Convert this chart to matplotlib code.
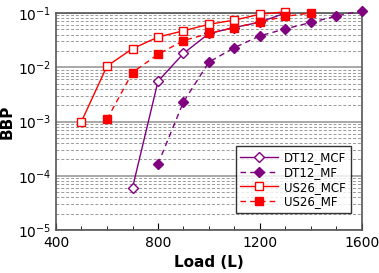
import matplotlib
matplotlib.use("Agg")
import matplotlib.pyplot as plt
from matplotlib.ticker import LogLocator, MultipleLocator

dt12_mcf_x = [700, 800, 900, 1000, 1100, 1200, 1300]
dt12_mcf_y = [6e-5, 5.5e-3, 0.018, 0.042, 0.054, 0.068, 0.1]
dt12_mf_x = [800, 900, 1000, 1100, 1200, 1300, 1400, 1500, 1600]
dt12_mf_y = [1.65e-4, 2.3e-3, 0.0125, 0.023, 0.038, 0.051, 0.067, 0.088, 0.11]
us26_mcf_x = [500, 600, 700, 800, 900, 1000, 1100, 1200, 1300]
us26_mcf_y = [1.0e-3, 0.0105, 0.022, 0.036, 0.047, 0.062, 0.074, 0.095, 0.105]
us26_mf_x = [600, 700, 800, 900, 1000, 1100, 1200, 1300, 1400]
us26_mf_y = [1.1e-3, 8e-3, 0.0173, 0.031, 0.042, 0.054, 0.068, 0.087, 0.1]

purple = "#800080"
red = "#ff0000"

fig = plt.figure(figsize=(3.79, 2.73), dpi=100)
ax = fig.add_axes([56/379, 1 - 230/273, (362-56)/379, (230-13)/273])
ax.set_yscale("log")
ax.set_ylim(1e-5, 1e-1)
ax.set_xlim(400, 1600)

ax.yaxis.set_minor_locator(LogLocator(base=10, subs=range(2, 10), numticks=20))
ax.grid(True, which="major", axis="y", color="#999999", linewidth=1.2, linestyle="-")
ax.grid(True, which="minor", axis="y", color="#999999", linewidth=0.7, linestyle=(0, (3, 2)))
ax.set_axisbelow(True)

ax.plot(dt12_mcf_x, dt12_mcf_y, color=purple, linestyle="-", linewidth=1.0, marker="D",
        markersize=5.5, markerfacecolor="white", markeredgecolor=purple, label="DT12_MCF", clip_on=False, zorder=3)
ax.plot(dt12_mf_x, dt12_mf_y, color=purple, linestyle=(0, (4, 3)), linewidth=1.0, marker="D",
        markersize=5.5, markerfacecolor=purple, markeredgecolor=purple, label="DT12_MF", clip_on=False, zorder=3)
ax.plot(us26_mcf_x, us26_mcf_y, color=red, linestyle="-", linewidth=1.0, marker="s",
        markersize=5.5, markerfacecolor="white", markeredgecolor=red, label="US26_MCF", clip_on=False, zorder=4)
ax.plot(us26_mf_x, us26_mf_y, color=red, linestyle=(0, (4, 3)), linewidth=1.0, marker="s",
        markersize=5.5, markerfacecolor=red, markeredgecolor=red, label="US26_MF", clip_on=False, zorder=4)

ax.set_xticks([400, 800, 1200, 1600])
ax.xaxis.set_minor_locator(MultipleLocator(100))
ax.tick_params(axis="x", which="both", direction="in", labelsize=10)
ax.tick_params(axis="x", which="major", length=5, pad=4)
ax.tick_params(axis="x", which="minor", length=3)
ax.tick_params(axis="y", which="both", length=0, labelsize=10)
for s in ax.spines.values():
    s.set_color("#555555")
    s.set_linewidth(1.2)

ax.set_xlabel("Load (L)", fontsize=11, fontweight="bold", labelpad=4)
ax.set_ylabel("BBP", fontsize=11, fontweight="bold", labelpad=2)

leg = ax.legend(loc="lower right", bbox_to_anchor=(0.964, 0.078), borderaxespad=0, fontsize=8.5,
                frameon=True, fancybox=False, edgecolor="black", handlelength=3.2, borderpad=0.4,
                labelspacing=0.15, handletextpad=0.5)
leg.get_frame().set_linewidth(1.0)

fig.savefig("out.png", dpi=100)
